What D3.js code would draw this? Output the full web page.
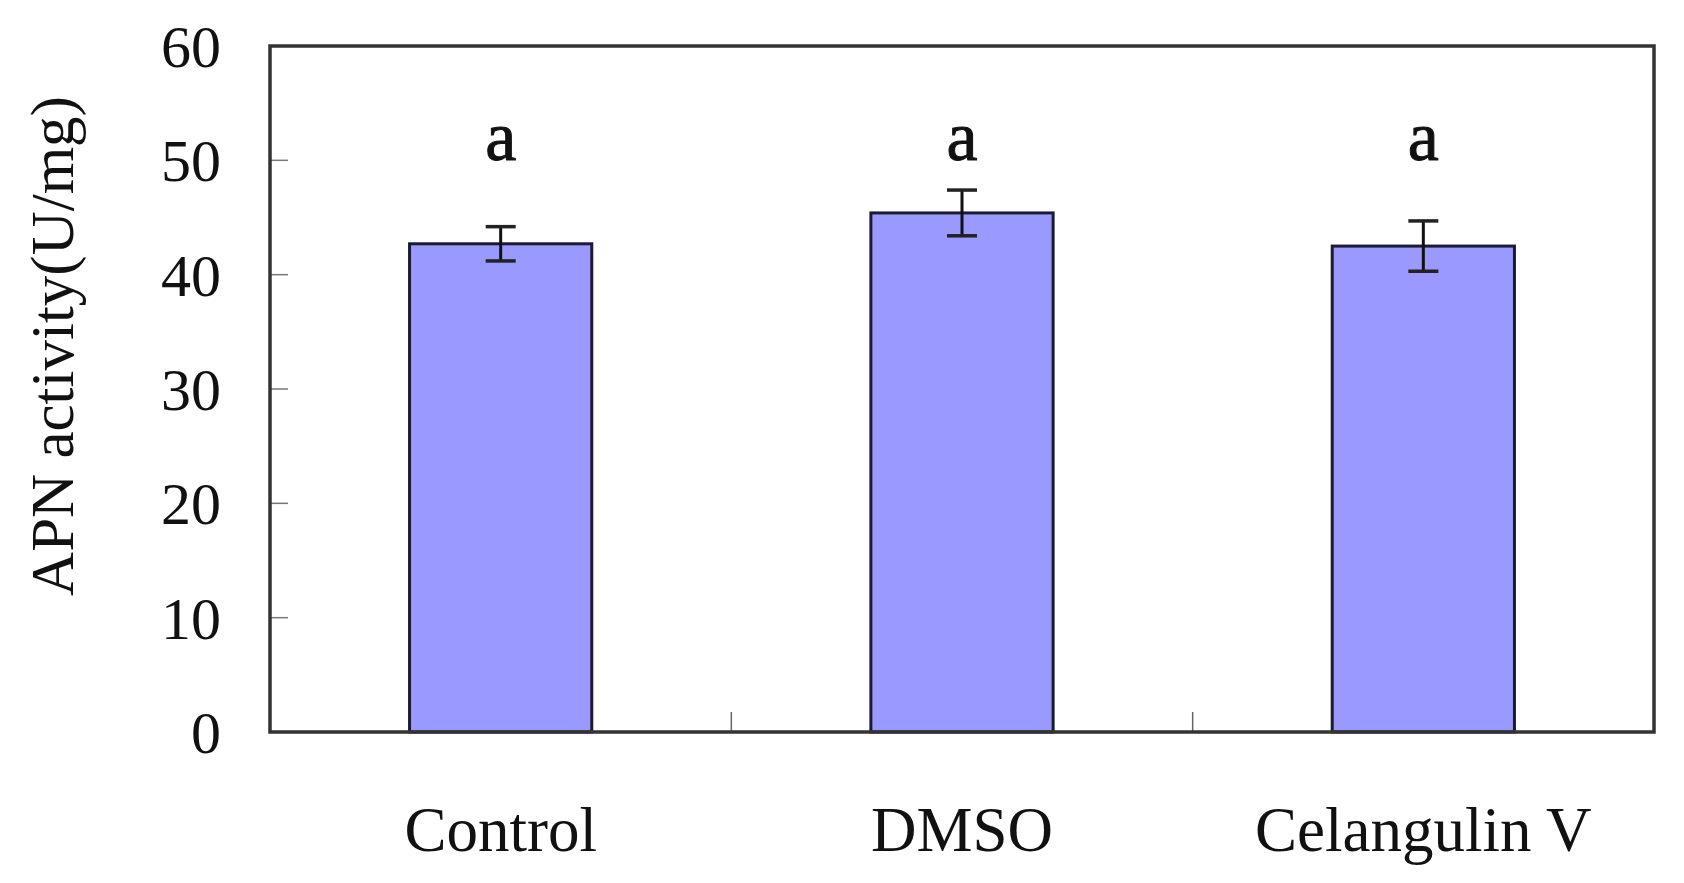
<!DOCTYPE html>
<html>
<head>
<meta charset="utf-8">
<script src="https://cdn.jsdelivr.net/npm/d3@7"></script>
<style>
  body { margin: 0; background: #fff; }
  text { font-family: "Liberation Serif", "Times New Roman", serif; fill: #111; }
</style>
</head>
<body>
<div id="chart"></div>
<script>
const categories = ["Control", "DMSO", "Celangulin V"];
const means = [42.7, 45.4, 42.5];
const errors = [1.5, 2.0, 2.2];
const letters = ["a", "a", "a"];
const yTicks = [0, 10, 20, 30, 40, 50, 60];

const width = 1684;
const height = 883;
const margin = { top: 46, right: 30, bottom: 151, left: 270 };
const innerWidth = width - margin.left - margin.right;
const innerHeight = height - margin.top - margin.bottom;

const svg = d3.select("#chart")
  .append("svg")
  .attr("width", width)
  .attr("height", height)
  .append("g")
  .attr("transform", `translate(${margin.left},${margin.top})`);

const xScale = d3.scaleBand()
  .domain(categories)
  .range([0, innerWidth])
  .paddingInner(0.605)
  .paddingOuter(0.3025);

const yScale = d3.scaleLinear()
  .domain([0, 60])
  .range([innerHeight, 0]);

// category boundary ticks (inward)
const bounds = d3.range(1, categories.length).map((i) => (innerWidth / categories.length) * i);
svg.selectAll(".xtick")
  .data(bounds)
  .enter().append("line")
  .attr("x1", (d) => d).attr("x2", (d) => d)
  .attr("y1", innerHeight).attr("y2", innerHeight - 20)
  .attr("stroke", "#666").attr("stroke-width", 1.5);

// y ticks inward
svg.selectAll(".ytick")
  .data(yTicks.slice(1, -1))
  .enter().append("line")
  .attr("x1", 0).attr("x2", 18)
  .attr("y1", (d) => yScale(d)).attr("y2", (d) => yScale(d))
  .attr("stroke", "#777").attr("stroke-width", 1.5);

// y tick labels
svg.selectAll(".ylabel")
  .data(yTicks)
  .enter().append("text")
  .attr("x", -49)
  .attr("y", (d) => yScale(d))
  .attr("dy", "0.35em")
  .attr("text-anchor", "end")
  .attr("font-size", 60)
  .text((d) => d);

// bars
svg.selectAll(".bar")
  .data(means)
  .enter().append("rect")
  .attr("x", (d, i) => xScale(categories[i]))
  .attr("y", (d) => yScale(d))
  .attr("width", xScale.bandwidth())
  .attr("height", (d) => innerHeight - yScale(d))
  .attr("fill", "#9999ff")
  .attr("stroke", "#1a1a33")
  .attr("stroke-width", 3);

// error bars
const cap = 15;
const err = svg.selectAll(".err")
  .data(means)
  .enter().append("g")
  .attr("transform", (d, i) => `translate(${xScale(categories[i]) + xScale.bandwidth() / 2},0)`);
err.append("line")
  .attr("y1", (d, i) => yScale(d + errors[i]))
  .attr("y2", (d, i) => yScale(d - errors[i]))
  .attr("stroke", "#111").attr("stroke-width", 3);
err.append("line")
  .attr("x1", -cap).attr("x2", cap)
  .attr("y1", (d, i) => yScale(d + errors[i]))
  .attr("y2", (d, i) => yScale(d + errors[i]))
  .attr("stroke", "#222").attr("stroke-width", 3.5);
err.append("line")
  .attr("x1", -cap).attr("x2", cap)
  .attr("y1", (d, i) => yScale(d - errors[i]))
  .attr("y2", (d, i) => yScale(d - errors[i]))
  .attr("stroke", "#222").attr("stroke-width", 3.5);

// significance letters
svg.selectAll(".letter")
  .data(letters)
  .enter().append("text")
  .attr("x", (d, i) => xScale(categories[i]) + xScale.bandwidth() / 2)
  .attr("y", yScale(50))
  .attr("text-anchor", "middle")
  .attr("font-size", 70)
  .attr("stroke", "#111")
  .attr("stroke-width", 1)
  .text((d) => d);

// frame
svg.append("rect")
  .attr("x", 0).attr("y", 0)
  .attr("width", innerWidth).attr("height", innerHeight)
  .attr("fill", "none")
  .attr("stroke", "#333").attr("stroke-width", 3.5);

// category labels
svg.selectAll(".xlabel")
  .data(categories)
  .enter().append("text")
  .attr("x", (d) => xScale(d) + xScale.bandwidth() / 2)
  .attr("y", innerHeight + 119)
  .attr("text-anchor", "middle")
  .attr("font-size", 63)
  .text((d) => d);

// y axis title
svg.append("text")
  .attr("transform", `translate(${73 - margin.left},${346 - margin.top}) rotate(-90)`)
  .attr("text-anchor", "middle")
  .attr("font-size", 61)
  .text("APN activity(U/mg)");
</script>
</body>
</html>
